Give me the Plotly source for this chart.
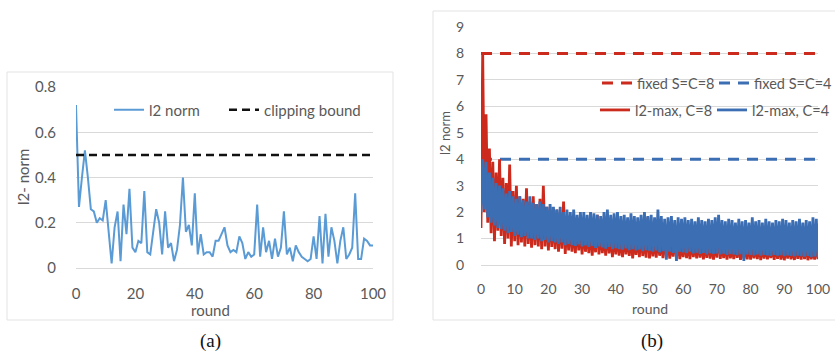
import plotly.graph_objects as go

# ---------------- data ----------------
rounds_a = list(range(101))
l2_norm_a = [0.72, 0.27, 0.40, 0.52, 0.40, 0.26, 0.25, 0.20, 0.22, 0.21,
             0.30, 0.15, 0.02, 0.18, 0.25, 0.03, 0.28, 0.15, 0.35, 0.09,
             0.07, 0.12, 0.11, 0.34, 0.07, 0.06, 0.15, 0.26, 0.20, 0.06,
             0.25, 0.09, 0.11, 0.03, 0.08, 0.19, 0.40, 0.16, 0.19, 0.10,
             0.33, 0.06, 0.15, 0.06, 0.07, 0.07, 0.05, 0.12, 0.12, 0.15,
             0.18, 0.10, 0.07, 0.08, 0.07, 0.14, 0.11, 0.04, 0.07, 0.05,
             0.06, 0.28, 0.05, 0.18, 0.07, 0.12, 0.04, 0.13, 0.05, 0.09,
             0.25, 0.06, 0.09, 0.03, 0.10, 0.07, 0.05, 0.04, 0.03, 0.04,
             0.14, 0.04, 0.23, 0.02, 0.24, 0.05, 0.18, 0.12, 0.02, 0.12,
             0.18, 0.04, 0.06, 0.09, 0.33, 0.04, 0.04, 0.13, 0.12, 0.10, 0.10]
clip_bound_a = [0.5] * 101

rounds_b = list(range(101))
fixed_c8 = [8] * 101
fixed_c4 = [4] * 101
c8_low = [1.40, 2.00, 1.60, 1.20, 0.90, 1.30, 1.10, 0.80, 1.00, 0.70,
          0.90, 0.75, 0.85, 0.70, 0.80, 0.65, 0.75, 0.70, 0.60, 0.70,
          0.55, 0.68, 0.60, 0.50, 0.62, 0.42, 0.55, 0.50, 0.45, 0.55,
          0.40, 0.50, 0.45, 0.35, 0.48, 0.40, 0.45, 0.35, 0.44, 0.30,
          0.40, 0.35, 0.30, 0.40, 0.34, 0.25, 0.38, 0.30, 0.34, 0.28,
          0.25, 0.33, 0.28, 0.35, 0.26, 0.30, 0.24, 0.32, 0.27, 0.22,
          0.30, 0.26, 0.22, 0.30, 0.25, 0.28, 0.21, 0.27, 0.24, 0.20,
          0.28, 0.23, 0.26, 0.20, 0.25, 0.22, 0.27, 0.19, 0.24, 0.21,
          0.20, 0.25, 0.22, 0.18, 0.24, 0.21, 0.26, 0.19, 0.23, 0.20,
          0.18, 0.24, 0.21, 0.19, 0.23, 0.20, 0.22, 0.18, 0.21, 0.20, 0.22]
c8_high = [8.00, 5.70, 4.40, 3.90, 3.50, 4.00, 3.30, 3.10, 3.80, 2.80,
           3.00, 2.60, 2.50, 2.90, 2.40, 2.60, 2.30, 2.50, 3.00, 2.20,
           2.20, 2.00, 2.10, 1.95, 2.40, 1.80, 1.70, 1.60, 1.75, 1.50,
           1.55, 1.40, 1.50, 1.35, 1.90, 1.40, 1.30, 1.45, 1.25, 1.35,
           1.30, 1.20, 1.35, 1.15, 1.25, 1.10, 1.20, 1.30, 1.10, 1.80,
           1.15, 1.05, 1.20, 1.00, 1.10, 1.05, 0.95, 1.15, 1.00, 0.90,
           1.05, 0.95, 1.10, 0.90, 1.00, 0.95, 0.85, 1.05, 0.90, 0.95,
           1.60, 0.90, 0.85, 1.00, 0.80, 0.95, 0.85, 0.90, 0.80, 0.95,
           0.85, 0.80, 0.95, 0.85, 0.90, 0.75, 0.85, 0.95, 0.80, 0.85,
           0.80, 0.90, 0.75, 0.85, 0.80, 0.90, 0.85, 0.80, 0.75, 0.85, 0.60]
c4_low = [2.00, 2.10, 1.80, 1.60, 1.50, 1.40, 1.35, 1.30, 1.20, 1.25,
          1.10, 1.15, 1.05, 1.10, 1.00, 1.00, 0.95, 1.00, 0.90, 0.95,
          0.85, 0.90, 0.85, 0.80, 0.85, 0.75, 0.80, 0.75, 0.72, 0.78,
          0.70, 0.74, 0.68, 0.72, 0.65, 0.70, 0.66, 0.62, 0.68, 0.60,
          0.64, 0.60, 0.58, 0.63, 0.56, 0.60, 0.55, 0.58, 0.52, 0.56,
          0.54, 0.50, 0.55, 0.48, 0.52, 0.20, 0.50, 0.46, 0.15, 0.50,
          0.48, 0.45, 0.50, 0.44, 0.47, 0.42, 0.46, 0.40, 0.45, 0.42,
          0.44, 0.40, 0.43, 0.38, 0.42, 0.40, 0.37, 0.41, 0.15, 0.40,
          0.38, 0.36, 0.40, 0.35, 0.38, 0.36, 0.34, 0.38, 0.35, 0.37,
          0.33, 0.36, 0.34, 0.32, 0.35, 0.33, 0.31, 0.34, 0.30, 0.32, 0.30]
c4_high = [4.00, 3.90, 3.50, 3.30, 3.10, 3.00, 2.90, 2.70, 2.80, 2.60,
           2.50, 2.60, 2.45, 2.40, 2.60, 2.35, 2.30, 2.40, 2.30, 2.20,
           2.30, 2.20, 2.10, 2.20, 2.00, 2.10, 2.00, 2.10, 1.90, 2.00,
           2.00, 1.90, 2.00, 1.95, 1.90, 1.85, 2.00, 2.10, 1.90, 1.95,
           2.00, 1.85, 1.90, 1.80, 1.95, 1.85, 1.80, 1.90, 2.00, 1.85,
           1.90, 1.80, 2.10, 1.85, 1.75, 1.80, 1.85, 1.70, 1.80, 1.75,
           1.80, 1.70, 1.75, 1.65, 1.80, 1.70, 1.65, 1.75, 1.70, 1.80,
           1.90, 1.70, 1.65, 1.75, 1.70, 1.60, 1.75, 1.65, 1.70, 1.60,
           1.80, 1.65, 1.70, 1.60, 1.75, 1.65, 1.60, 1.70, 1.65, 1.75,
           1.70, 1.60, 1.70, 1.65, 1.75, 1.60, 1.70, 1.65, 1.80, 1.75, 1.50]

x_ticks_a = [0, 20, 40, 60, 80, 100]
y_ticks_a = [0, 0.2, 0.4, 0.6, 0.8]
x_ticks_b = list(range(0, 101, 10))
y_ticks_b = list(range(0, 10))


def zigzag(rounds, low, high):
    xs, ys = [], []
    for r, lo, hi in zip(rounds, low, high):
        xs += [r, r + 0.5]
        ys += [lo, hi]
    return xs, ys


# ---------------- style ----------------
W, H = 835, 351
FONT = "Lato"
GRAY_TXT = "#595959"
GRID = "#D9D9D9"
BLUE_A = "#5B9BD5"
RED_B = "#CC2A1C"
BLUE_B = "#3C6EB4"


def px(x):
    return x / W


def py(y):
    return (H - y) / H


fig = go.Figure()

# panel (a)
fig.add_trace(go.Scatter(x=rounds_a, y=l2_norm_a, mode="lines", name="l2 norm",
                         line=dict(color=BLUE_A, width=2), xaxis="x", yaxis="y",
                         legend="legend", showlegend=True))
fig.add_trace(go.Scatter(x=rounds_a, y=clip_bound_a, mode="lines", name="clipping bound",
                         line=dict(color="#111111", width=2.5, dash="8px,5px"),
                         xaxis="x", yaxis="y", legend="legend2", showlegend=True))

# panel (b)
fig.add_trace(go.Scatter(x=rounds_b, y=fixed_c8, mode="lines", name="fixed S=C=8",
                         line=dict(color=RED_B, width=3, dash="11px,8px"),
                         xaxis="x2", yaxis="y2", legend="legend3", showlegend=True))
fig.add_trace(go.Scatter(x=rounds_b, y=fixed_c4, mode="lines", name="fixed S=C=4",
                         line=dict(color=BLUE_B, width=3, dash="11px,8px"),
                         xaxis="x2", yaxis="y2", legend="legend4", showlegend=True))
zx8, zy8 = zigzag(rounds_b, c8_low, c8_high)
fig.add_trace(go.Scatter(x=zx8, y=zy8, mode="lines", name="l2-max, C=8",
                         line=dict(color=RED_B, width=2.8),
                         xaxis="x2", yaxis="y2", legend="legend5", showlegend=True))
zx4, zy4 = zigzag(rounds_b, c4_low, c4_high)
fig.add_trace(go.Scatter(x=zx4, y=zy4, mode="lines", name="l2-max, C=4",
                         line=dict(color=BLUE_B, width=2.8),
                         xaxis="x2", yaxis="y2", legend="legend6", showlegend=True))

axis_common = dict(showline=False, gridcolor=GRID, gridwidth=1,
                   ticks="outside", tickcolor="rgba(0,0,0,0)", fixedrange=True,
                   automargin=False)


def ann(text, x, y, size, angle=0, family=FONT, color=GRAY_TXT):
    return dict(text=text, x=px(x), y=py(y), xref="paper", yref="paper",
                xanchor="center", yanchor="middle", showarrow=False,
                textangle=angle, font=dict(family=family, size=size, color=color))


def leg(sample_x, row_y, size):
    return dict(orientation="h", x=px(sample_x - 6), y=py(row_y), xanchor="left",
                yanchor="middle", font=dict(family=FONT, size=size, color=GRAY_TXT),
                bgcolor="rgba(0,0,0,0)", visible=True)


fig.update_layout(
    width=W, height=H, margin=dict(l=0, r=0, t=0, b=0, pad=0, autoexpand=False),
    paper_bgcolor="white", plot_bgcolor="white", showlegend=True,
    font=dict(family=FONT, color=GRAY_TXT),
    xaxis=dict(domain=[px(76), px(373)], range=[0, 100], anchor="y",
               tickvals=x_ticks_a, showgrid=False, zeroline=False, ticklen=12,
               tickfont=dict(family=FONT, color=GRAY_TXT, size=15), **axis_common),
    yaxis=dict(domain=[py(268), py(87)], range=[0, 0.8], anchor="x",
               tickvals=y_ticks_a, showgrid=True, zeroline=True,
               zerolinecolor=GRID, zerolinewidth=1, ticklen=16,
               tickfont=dict(family=FONT, color=GRAY_TXT, size=15), **axis_common),
    xaxis2=dict(domain=[px(481), px(818)], range=[0, 100], anchor="y2",
                tickvals=x_ticks_b, showgrid=False, zeroline=False, ticklen=11,
                tickfont=dict(family=FONT, color=GRAY_TXT, size=14), **axis_common),
    yaxis2=dict(domain=[py(265), py(27)], range=[0, 9], anchor="x2",
                tickvals=y_ticks_b, showgrid=True, zeroline=True,
                zerolinecolor=GRID, zerolinewidth=1, ticklen=13,
                tickfont=dict(family=FONT, color=GRAY_TXT, size=14), **axis_common),
    legend=leg(115, 110, 15),
    legend2=leg(230, 110, 15),
    legend3=leg(603, 83, 14.5),
    legend4=leg(720, 83, 14.5),
    legend5=leg(601, 110, 14.5),
    legend6=leg(718, 110, 14.5),
    shapes=[
        dict(type="rect", xref="paper", yref="paper", x0=px(7), x1=px(393),
             y0=py(320), y1=py(72), line=dict(color="#E3E3E3", width=1), layer="below"),
        dict(type="rect", xref="paper", yref="paper", x0=px(433), x1=px(845),
             y0=py(320), y1=py(11), line=dict(color="#E3E3E3", width=1), layer="below"),
    ],
    annotations=[
        ann("l2- norm", 23, 177, 15, angle=-90),
        ann("round", 210, 310, 15),
        ann("l2 norm", 445, 133, 13, angle=-90),
        ann("round", 650, 308, 14),
        ann("(a)", 210, 341, 19, family="Liberation Serif", color="#111111"),
        ann("(b)", 652, 341, 19, family="Liberation Serif", color="#111111"),
    ],
)

fig.write_html("out.html", config={"displayModeBar": False, "staticPlot": True},
               post_script="document.body.style.margin='0';document.body.style.overflow='hidden';")
